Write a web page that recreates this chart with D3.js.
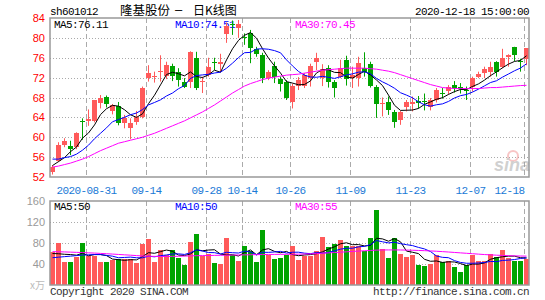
<!DOCTYPE html>
<html>
<head>
<meta charset="utf-8">
<script src="https://cdn.jsdelivr.net/npm/d3@7/dist/d3.min.js"></script>
<style>
  body { margin: 0; background: #fff; }
  svg { display: block; }
</style>
</head>
<body>
<div id="chart"></div>
<script>
// trading days shown (2020-08-21 .. 2020-12-18)
const dates = [
  "2020-08-21","2020-08-24","2020-08-25","2020-08-26","2020-08-27","2020-08-28","2020-08-31",
  "2020-09-01","2020-09-02","2020-09-03","2020-09-04","2020-09-07","2020-09-08","2020-09-09","2020-09-10","2020-09-11",
  "2020-09-14","2020-09-15","2020-09-16","2020-09-17","2020-09-18","2020-09-21","2020-09-22","2020-09-23","2020-09-24","2020-09-25",
  "2020-09-28","2020-09-29","2020-09-30","2020-10-09","2020-10-12","2020-10-13","2020-10-14","2020-10-15","2020-10-16",
  "2020-10-19","2020-10-20","2020-10-21","2020-10-22","2020-10-23","2020-10-26","2020-10-27","2020-10-28","2020-10-29","2020-10-30",
  "2020-11-02","2020-11-03","2020-11-04","2020-11-05","2020-11-06","2020-11-09","2020-11-10","2020-11-11","2020-11-12","2020-11-13",
  "2020-11-16","2020-11-17","2020-11-18","2020-11-19","2020-11-20","2020-11-23","2020-11-24","2020-11-25","2020-11-26","2020-11-27",
  "2020-11-30","2020-12-01","2020-12-02","2020-12-03","2020-12-04","2020-12-07","2020-12-08","2020-12-09","2020-12-10","2020-12-11",
  "2020-12-14","2020-12-15","2020-12-16","2020-12-17","2020-12-18"
];
const open = [
  53.1,55.2,58.5,58.3,57.9,63.2,63.1,63.2,66.9,68.1,65.2,66.2,62.7,61.8,63.0,64.2,
  71.9,72.1,73.0,72.3,74.3,73.2,71.2,71.2,76.0,71.1,72.5,75.1,74.7,80.6,82.7,81.8,80.2,81.0,77.7,
  76.6,72.0,74.4,71.7,71.2,67.2,70.2,70.3,71.9,75.2,72.0,74.0,71.2,72.1,75.6,71.9,71.9,74.0,74.7,70.2,
  66.7,67.0,65.1,63.3,65.9,66.7,67.3,67.3,66.1,67.5,68.9,69.3,70.5,70.2,69.6,70.0,72.2,72.9,73.2,75.2,
  74.2,76.0,78.1,75.4,75.6
];
const high = [
  54.4,59.0,59.8,59.3,61.0,63.8,65.6,67.5,68.5,68.4,66.7,67.1,64.5,63.8,65.3,70.2,
  74.5,73.2,76.5,75.2,74.8,73.9,71.9,77.3,77.2,72.2,76.0,76.0,76.8,83.1,83.5,83.6,80.9,81.6,78.2,
  77.0,73.5,75.2,72.2,71.5,70.8,72.1,72.9,74.8,77.0,74.7,74.5,71.5,75.6,76.4,74.2,76.2,77.1,75.2,70.5,
  68.0,68.2,65.5,65.3,67.5,68.2,68.3,68.8,67.9,69.9,69.9,70.5,71.3,70.9,70.2,72.2,73.2,74.2,75.2,75.3,
  77.8,76.7,78.2,75.8,77.9
];
const low = [
  52.5,55.0,58.0,56.4,57.6,59.5,62.3,63.0,65.8,66.0,64.6,62.4,61.8,59.6,62.5,63.8,
  71.2,71.0,71.2,71.7,71.3,70.2,69.9,69.9,69.5,68.9,72.2,73.5,73.1,79.0,80.6,80.0,78.6,74.9,76.2,
  70.9,71.5,70.9,69.2,67.5,65.8,69.5,69.9,70.2,73.5,70.3,70.0,68.0,71.9,70.4,69.9,70.2,72.2,70.0,63.9,
  64.2,64.5,61.9,62.5,65.2,65.2,65.8,65.4,65.4,67.0,67.8,68.6,69.0,68.8,67.5,69.2,71.9,71.9,72.2,72.2,
  73.9,74.2,75.3,73.2,74.5
];
const close = [
  54.1,58.4,59.3,57.6,60.8,63.0,63.6,67.4,68.0,66.7,66.4,62.8,63.8,62.9,64.1,70.0,
  73.0,72.3,73.3,74.5,72.3,71.5,70.2,77.2,69.9,71.3,74.2,74.9,75.1,82.3,82.5,82.7,80.0,77.9,76.6,
  71.9,73.2,72.2,70.7,68.0,70.4,71.5,72.5,74.3,76.0,73.8,71.2,70.0,74.0,71.8,72.5,74.9,73.2,70.2,66.8,
  66.9,65.3,63.0,65.0,67.0,67.1,66.9,67.1,67.5,69.6,68.7,70.2,69.9,69.7,69.4,71.9,72.8,73.7,74.2,73.2,
  76.0,76.5,76.4,75.2,77.9
];
// volume, 万手
const volume = [
  62,80,44,44,54,80,56,56,44,44,47,50,50,50,42,78,
  88,44,66,57,66,52,39,82,97,56,59,42,40,90,58,46,75,65,44,
  104,58,49,52,57,74,47,56,56,65,92,73,78,85,74,74,74,65,90,142,
  68,52,90,59,54,57,39,36,40,57,43,45,34,25,38,57,45,45,60,53,
  66,51,45,45,50
];
const ma5Head = [54.3,55.1,55.9,57.1];
const ma10Head = [55.6,55.6,55.9,56.1,56.6,57.4,58.4,59.7,60.8];
const ma30 = [
  54.0,54.2,54.5,54.8,55.2,55.6,56.1,56.7,57.3,57.8,58.3,58.8,59.1,59.4,59.7,60.0,
  60.4,60.8,61.3,61.8,62.3,62.8,63.3,63.9,64.5,65.1,65.8,66.5,67.3,68.1,68.9,69.6,70.3,70.8,71.2,
  71.6,71.9,72.1,72.3,72.5,72.6,72.7,72.9,73.1,73.3,73.5,73.6,73.7,73.8,73.9,73.9,73.9,73.9,73.8,73.7,
  73.5,73.3,73.0,72.6,72.2,71.8,71.4,71.0,70.6,70.3,70.0,69.9,69.8,69.8,69.8,69.8,69.8,69.9,70.0,70.0,
  70.1,70.2,70.3,70.4,70.45
];
const volMa5Head = [60,59.5,58.5,58];
const volMa10Head = [52,53,54,55,56,57,57.5,58,58];
const volMa30 = [
  63.5,63.3,63,62.6,62.2,61.8,61.3,60.8,60.2,59.6,58.9,58.2,57.5,56.8,56,55.3,
  54.8,54.5,54.3,54.3,54.5,54.8,55.1,55.5,55.8,56,56.2,56.4,56.6,56.8,57,57.2,57.4,57.6,57.8,
  58,58.2,58.3,58.4,58.5,58.6,58.8,59,59.3,59.8,60.5,61.2,61.8,62.5,63.2,64,64.6,65.2,65.8,66.4,
  66.7,66.8,66.8,66.7,66.5,66.2,65.8,65.4,64.9,64.3,63.6,62.8,62,61.2,60.4,59.6,58.8,58,57.4,56.8,
  56.3,55.9,55.5,55.2,55
];
const priceTicks = [52,56,60,64,68,72,76,80,84];
const volTicks = [40,80,120,160];
const dateTicks = ["2020-08-31","2020-09-14","2020-09-28","2020-10-14","2020-10-26","2020-11-09","2020-11-23","2020-12-07","2020-12-18"];
const dateLabels = ["2020-08-31","09-14","09-28","10-14","10-26","11-09","11-23","12-07","12-18"];
const maLabels = ["MA5:76.11","MA10:74.51","MA30:70.45"];
const volMaLabels = ["MA5:50","MA10:50","MA30:55"];

const width = 545, height = 300;
const left = 50, right = 529;
const mainTop = 18, mainBottom = 177;
const volTop = 201, volBottom = 285;
const upColor = "#ff5a5a", downColor = "#00a400";
const lineColors = ["#000000","#0000ff","#ff00ff"];
const mono = "'Liberation Mono', 'DejaVu Sans Mono', monospace";
const sans = "'Liberation Sans', Arial, sans-serif";

function movingAvg(values, n, head) {
  return values.map(function (v, i) {
    return i < n - 1 ? head[i] : d3.mean(values.slice(i - n + 1, i + 1));
  });
}

const svg = d3.select("#chart").append("svg")
  .attr("width", width)
  .attr("height", height);

const x = d3.scaleBand().domain(dates).range([left - 1, right]).padding(0);
const cx = function (d) { return x(d) + 3.5; };

const y = d3.scaleLinear().domain([52, 84]).range([mainBottom, mainTop]);
const yv = d3.scaleLinear().domain([0, 160]).range([volBottom, volTop]);

// header
svg.append("text").attr("x", left).attr("y", 15).text("sh601012")
  .style("font-family", mono).style("font-size", "11px").style("letter-spacing", "-0.6px");
svg.append("text").attr("x", 120).attr("y", 15).text("隆基股份")
  .style("font-family", "'Noto Sans CJK SC'").style("font-size", "12.5px");
svg.append("text").attr("x", 175).attr("y", 14).text("–")
  .style("font-family", sans).style("font-size", "13px");
svg.append("text").attr("x", 193).attr("y", 15).text("日K线图")
  .style("font-family", "'Noto Sans CJK SC'").style("font-size", "12px");
svg.append("text").attr("x", right).attr("y", 15).attr("text-anchor", "end")
  .text("2020-12-18 15:00:00")
  .style("font-family", mono).style("font-size", "11px").style("letter-spacing", "-0.6px");

// grid
function grid(top, bottom, yScale, ticks) {
  const g = svg.append("g");
  g.selectAll(".h").data(ticks).enter().append("line")
    .attr("x1", left).attr("x2", right)
    .attr("y1", function (d) { return Math.round(yScale(d)) + 0.5; })
    .attr("y2", function (d) { return Math.round(yScale(d)) + 0.5; })
    .style("stroke", "#aaa").style("stroke-dasharray", "1,2");
  g.selectAll(".v").data(dateTicks).enter().append("line")
    .attr("x1", function (d) { return x(d) + 1.5; })
    .attr("x2", function (d) { return x(d) + 1.5; })
    .attr("y1", top).attr("y2", bottom)
    .style("stroke", "#aaa").style("stroke-dasharray", "5,3");
}
grid(mainTop, mainBottom, y, priceTicks.slice(1, -1));
grid(volTop, volBottom, yv, volTicks.slice(0, -1));

// MA labels (drawn under marks)
const labelX = [54, 175, 295];
maLabels.forEach(function (t, i) {
  svg.append("text").attr("x", labelX[i]).attr("y", 28).text(t)
    .style("fill", lineColors[i]).style("font-family", mono)
    .style("font-size", "11px").style("letter-spacing", "-0.6px");
});
volMaLabels.forEach(function (t, i) {
  svg.append("text").attr("x", labelX[i]).attr("y", 210).text(t)
    .style("fill", lineColors[i]).style("font-family", mono)
    .style("font-size", "11px").style("letter-spacing", "-0.6px");
});

// watermark
const wm = svg.append("g").style("opacity", 0.45);
wm.append("circle").attr("cx", 513).attr("cy", 156).attr("r", 5)
  .style("fill", "none").style("stroke", "#f08080").style("stroke-width", 2);
wm.append("text").attr("x", 494).attr("y", 171).text("sina")
  .style("font-family", sans).style("font-weight", "bold").style("font-style", "italic")
  .style("font-size", "18px").style("fill", "#999");

// candles
const idx = d3.range(dates.length);
const colorOf = function (i) { return close[i] >= open[i] ? upColor : downColor; };
const candles = svg.append("g");
candles.selectAll(".wick").data(idx).enter().append("line")
  .attr("x1", function (i) { return cx(dates[i]); })
  .attr("x2", function (i) { return cx(dates[i]); })
  .attr("y1", function (i) { return y(high[i]); })
  .attr("y2", function (i) { return y(low[i]); })
  .style("stroke", colorOf).style("stroke-width", 1);
candles.selectAll(".body").data(idx).enter().append("rect")
  .attr("x", function (i) { return x(dates[i]) + 1; })
  .attr("width", 5)
  .attr("y", function (i) { return Math.round(y(Math.max(open[i], close[i]))); })
  .attr("height", function (i) {
    return Math.max(1, Math.round(y(Math.min(open[i], close[i])) - y(Math.max(open[i], close[i]))));
  })
  .style("fill", colorOf);

// volume bars
svg.append("g").selectAll("rect").data(idx).enter().append("rect")
  .attr("x", function (i) { return x(dates[i]) + 1; })
  .attr("width", 5)
  .attr("y", function (i) { return Math.round(yv(volume[i])); })
  .attr("height", function (i) { return volBottom - Math.round(yv(volume[i])); })
  .style("fill", colorOf);

// moving average lines
function drawLine(values, yScale, color) {
  svg.append("path").datum(values)
    .attr("d", d3.line()
      .x(function (d, i) { return cx(dates[i]); })
      .y(function (d) { return yScale(d); }))
    .style("fill", "none").style("stroke", color).style("stroke-width", 1);
}
drawLine(movingAvg(close, 5, ma5Head), y, lineColors[0]);
drawLine(movingAvg(close, 10, ma10Head), y, lineColors[1]);
drawLine(ma30, y, lineColors[2]);
drawLine(movingAvg(volume, 5, volMa5Head), yv, lineColors[0]);
drawLine(movingAvg(volume, 10, volMa10Head), yv, lineColors[1]);
drawLine(volMa30, yv, lineColors[2]);

// frames
[[mainTop, mainBottom], [volTop, volBottom]].forEach(function (p) {
  svg.append("rect").attr("x", left).attr("y", p[0])
    .attr("width", right - left).attr("height", p[1] - p[0])
    .style("fill", "none").style("stroke", "#999").style("stroke-width", 1.5);
});

// axes
const yAxis = svg.append("g").attr("transform", "translate(" + (left - 5) + ",0)")
  .call(d3.axisLeft(y).tickValues(priceTicks).tickSize(0).tickPadding(0).tickFormat(d3.format("d")));
yAxis.select(".domain").remove();
yAxis.selectAll("text").style("fill", "#ff0000").style("font-family", sans).style("font-size", "11px");

const vAxis = svg.append("g").attr("transform", "translate(" + (left - 5) + ",0)")
  .call(d3.axisLeft(yv).tickValues(volTicks).tickSize(0).tickPadding(0).tickFormat(d3.format("d")));
vAxis.select(".domain").remove();
vAxis.selectAll("text").style("fill", "#999").style("font-family", sans).style("font-size", "11px");
svg.append("text").attr("x", left - 5).attr("y", volBottom + 4).attr("text-anchor", "end")
  .text("x万").style("fill", "#bbb").style("font-family", "'Noto Sans CJK SC'").style("font-size", "10px");

const xAxis = svg.append("g").attr("transform", "translate(0," + (mainBottom + 9) + ")")
  .call(d3.axisBottom(d3.scalePoint().domain(dateTicks).range([0, 1]))
    .tickSize(0).tickPadding(0));
xAxis.select(".domain").remove();
xAxis.selectAll(".tick").attr("transform", null);
xAxis.selectAll("text")
  .attr("x", function (d) { return x(d) + 1.5; })
  .attr("y", 0).attr("dy", "0.71em")
  .attr("text-anchor", function (d, i) { return i === dateTicks.length - 1 ? "end" : "middle"; })
  .text(function (d, i) { return dateLabels[i]; })
  .style("fill", "#1a7ad6").style("font-family", mono)
  .style("font-size", "11px").style("letter-spacing", "-0.6px");

// footer
svg.append("text").attr("x", left).attr("y", 295).text("Copyright 2020 SINA.COM")
  .style("fill", "#333").style("font-family", mono).style("font-size", "11px").style("letter-spacing", "-0.6px");
svg.append("text").attr("x", right).attr("y", 295).attr("text-anchor", "end").text("http://finance.sina.com.cn")
  .style("fill", "#333").style("font-family", mono).style("font-size", "11px").style("letter-spacing", "-0.6px");
</script>
</body>
</html>
